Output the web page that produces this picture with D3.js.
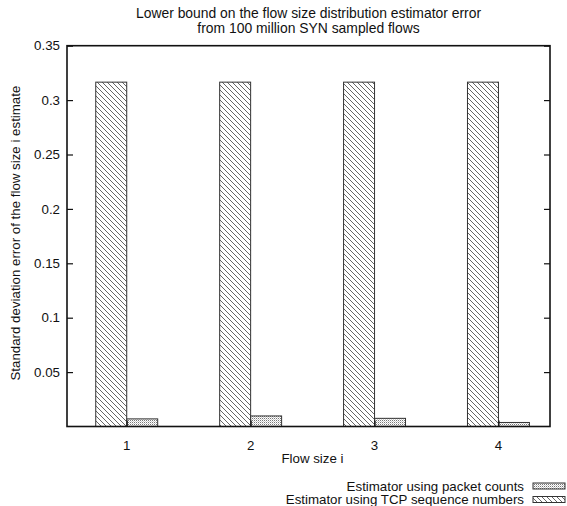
<!DOCTYPE html>
<html>
<head>
<meta charset="utf-8">
<script src="https://cdn.jsdelivr.net/npm/d3@7"></script>
<style>
  html, body { margin: 0; padding: 0; background: #fff; }
  svg { display: block; font-family: "Liberation Sans", Arial, Helvetica, sans-serif; }
</style>
</head>
<body>
<svg id="chart" width="567" height="506"></svg>
<script>
// Flow sizes on the x axis
const flowSizes = [1, 2, 3, 4];
// Standard deviation error per estimator
const seqNumberError = [0.3165, 0.3165, 0.3165, 0.3165];
const packetCountError = [0.0070, 0.0097, 0.0075, 0.0037];
// Axis ticks
const yTicks = [0.05, 0.1, 0.15, 0.2, 0.25, 0.3, 0.35];
const yTickLabels = ["0.05", "0.1", "0.15", "0.2", "0.25", "0.3", "0.35"];
const seriesNames = ["Estimator using packet counts", "Estimator using TCP sequence numbers"];
const titleLines = ["Lower bound on the flow size distribution estimator error", "from 100 million SYN sampled flows"];

const svg = d3.select("#chart");
const frame = { left: 67, right: 550, top: 45.7, bottom: 426.5 };
const fontSize = 13.3;

const x = d3.scaleLinear().domain([0.518, 4.416]).range([frame.left, frame.right]);
const y = d3.scaleLinear().domain([0, 0.35]).range([frame.bottom, frame.top]);
const barW = 0.25;

// Fill patterns
const defs = svg.append("defs");
const hatch = defs.append("pattern")
  .attr("id", "hatch").attr("patternUnits", "userSpaceOnUse")
  .attr("width", 5).attr("height", 5);
hatch.append("path")
  .attr("d", "M-1,-1 L6,6 M-1,4 L1,6 M4,-1 L6,1")
  .attr("stroke", "#555").attr("stroke-width", 0.9);

const dots = defs.append("pattern")
  .attr("id", "dots").attr("patternUnits", "userSpaceOnUse")
  .attr("width", 2).attr("height", 2);
dots.append("rect").attr("width", 2).attr("height", 2).attr("fill", "#fff");
dots.append("rect").attr("width", 1).attr("height", 1).attr("fill", "#777");
dots.append("rect").attr("x", 1).attr("y", 1).attr("width", 1).attr("height", 1).attr("fill", "#ccc");

// Bars: sequence-number estimator left of the tick, packet-count estimator right of it
const bars = svg.append("g");
bars.selectAll("rect.seq").data(flowSizes).join("rect")
  .attr("class", "seq")
  .attr("x", (d) => x(d - barW))
  .attr("width", (d) => x(d) - x(d - barW))
  .attr("y", (d, i) => y(seqNumberError[i]))
  .attr("height", (d, i) => y(0) - y(seqNumberError[i]))
  .attr("fill", "url(#hatch)").attr("stroke", "#333").attr("stroke-width", 1);
bars.selectAll("rect.pkt").data(flowSizes).join("rect")
  .attr("class", "pkt")
  .attr("x", (d) => x(d))
  .attr("width", (d) => x(d + barW) - x(d))
  .attr("y", (d, i) => y(packetCountError[i]))
  .attr("height", (d, i) => y(0) - y(packetCountError[i]))
  .attr("fill", "url(#dots)").attr("stroke", "#333").attr("stroke-width", 1);

// Frame with inward ticks on both vertical sides
svg.append("rect")
  .attr("x", frame.left).attr("y", frame.top)
  .attr("width", frame.right - frame.left).attr("height", frame.bottom - frame.top)
  .attr("fill", "none").attr("stroke", "#111").attr("stroke-width", 1.6);

const leftAxis = d3.axisRight(y).tickValues(yTicks).tickSize(6).tickFormat("");
svg.append("g").attr("transform", `translate(${frame.left},0)`).call(leftAxis)
  .call((g) => g.select(".domain").remove())
  .call((g) => g.selectAll("line").attr("stroke", "#111").attr("stroke-width", 1.2));
const rightAxis = d3.axisLeft(y).tickValues(yTicks).tickSize(6).tickFormat("");
svg.append("g").attr("transform", `translate(${frame.right},0)`).call(rightAxis)
  .call((g) => g.select(".domain").remove())
  .call((g) => g.selectAll("line").attr("stroke", "#111").attr("stroke-width", 1.2));

// Y tick labels
svg.append("g").selectAll("text").data(yTicks).join("text")
  .attr("x", frame.left - 7).attr("y", (d) => y(d))
  .attr("dy", "0.35em").attr("text-anchor", "end")
  .attr("font-size", fontSize).attr("fill", "#111")
  .text((d, i) => yTickLabels[i]);

// X axis ticks and labels
const bottomAxis = d3.axisTop(x).tickValues(flowSizes).tickSize(6).tickFormat("");
svg.append("g").attr("transform", `translate(0,${frame.bottom})`).call(bottomAxis)
  .call((g) => g.select(".domain").remove())
  .call((g) => g.selectAll("line").attr("stroke", "#111").attr("stroke-width", 1.2));
svg.append("g").selectAll("text").data(flowSizes).join("text")
  .attr("x", (d) => x(d)).attr("y", 450)
  .attr("text-anchor", "middle").attr("font-size", fontSize).attr("fill", "#111")
  .text((d) => d);

// Title, two centred lines
const cx = (frame.left + frame.right) / 2;
svg.append("g").selectAll("text").data(titleLines).join("text")
  .attr("x", cx).attr("y", (d, i) => 18 + i * 14.5)
  .attr("text-anchor", "middle").attr("font-size", 13.9).attr("fill", "#111")
  .text((d) => d);

// Axis titles
svg.append("text").attr("x", cx + 4).attr("y", 463).attr("text-anchor", "middle")
  .attr("font-size", fontSize).attr("fill", "#111").text("Flow size i");
svg.append("text")
  .attr("transform", `translate(20,${(frame.top + frame.bottom) / 2 - 3}) rotate(-90)`)
  .attr("text-anchor", "middle").attr("font-size", fontSize).attr("fill", "#111")
  .text("Standard deviation error of the flow size i estimate");

// Legend
const legendFills = ["url(#dots)", "url(#hatch)"];
const legend = svg.append("g");
seriesNames.forEach((name, i) => {
  const ly = 486 + i * 13.5;
  legend.append("text").attr("x", 524).attr("y", ly).attr("dy", "0.35em")
    .attr("text-anchor", "end").attr("font-size", fontSize).attr("fill", "#111").text(name);
  legend.append("rect").attr("x", 533).attr("y", ly - 3).attr("width", 32).attr("height", 6)
    .attr("fill", legendFills[i]).attr("stroke", "#333").attr("stroke-width", 1);
});
</script>
</body>
</html>
